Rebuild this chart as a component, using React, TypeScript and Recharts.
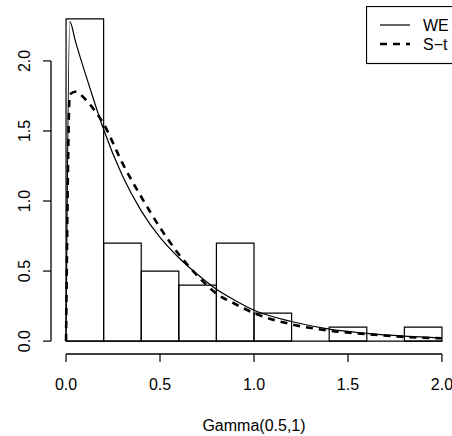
import { ComposedChart, Line, XAxis, YAxis, ReferenceArea, ReferenceLine } from "recharts"

// histogram bins (density scale)
const binEdges = [0, 0.2, 0.4, 0.6, 0.8, 1.0, 1.2, 1.4, 1.6, 1.8, 2.0]
const densities = [2.3, 0.7, 0.5, 0.4, 0.7, 0.2, 0, 0.1, 0, 0.1]

// fitted density curves
const curveX = [0, 0.02, 0.05, 0.1, 0.15, 0.2, 0.3, 0.4, 0.5, 0.6, 0.7, 0.8, 0.9, 1.0, 1.2, 1.4, 1.6, 1.8, 2.0]
const weValues = [0, 2.28, 2.14, 1.92, 1.71, 1.51, 1.18, 0.93, 0.74, 0.595, 0.475, 0.37, 0.29, 0.22, 0.14, 0.085, 0.055, 0.035, 0.022]
const stValues = [0, 1.76, 1.78, 1.73, 1.65, 1.55, 1.27, 1.03, 0.81, 0.62, 0.465, 0.34, 0.265, 0.2, 0.12, 0.075, 0.05, 0.03, 0.02]

const xTicks = [0, 0.5, 1, 1.5, 2]
const yTicks = [0, 0.5, 1, 1.5, 2]
const xLabel = "Gamma(0.5,1)"

// R style: 4% padding around the data range
const xDomain = [-0.08, 2.08]
const yDomain = [-0.092, 2.392]

const series = [
  { key: "we", name: "WE", width: 1.2, dash: undefined as string | undefined },
  { key: "st", name: "S−t", width: 2.6, dash: "7 6" },
]

const curveData = curveX.map((x, i) => ({ x, we: weValues[i], st: stValues[i] }))

const font = "'Liberation Sans', Arial, sans-serif"

const XTick = ({ x, y, payload }: any) => (
  <text x={x} y={y + 28} textAnchor="middle" fontSize={16} fontFamily={font} fill="#000">
    {payload.value.toFixed(1)}
  </text>
)

const YTick = ({ x, y, payload }: any) => {
  const cx = x - 18
  return (
    <text
      x={cx}
      y={y}
      transform={`rotate(-90, ${cx}, ${y})`}
      textAnchor="middle"
      dominantBaseline="central"
      fontSize={16}
      fontFamily={font}
      fill="#000"
    >
      {payload.value.toFixed(1)}
    </text>
  )
}

function LegendBox() {
  return (
    <svg width={90} height={60} style={{ position: "absolute", left: 366, top: 6, overflow: "hidden" }}>
      <rect x={0.5} y={0.5} width={120} height={57} fill="#fff" stroke="#000" strokeWidth={1.2} />
      {series.map((s, i) => (
        <g key={s.key}>
          <line x1={14} x2={44} y1={19 + i * 19} y2={19 + i * 19} stroke="#000" strokeWidth={s.width} strokeDasharray={s.dash} />
          <text x={57} y={25 + i * 19} fontSize={16} fontFamily={font} fill="#000">
            {s.name}
          </text>
        </g>
      ))}
    </svg>
  )
}

export default function App() {
  return (
    <div style={{ position: "absolute", left: 0, top: 0, width: 452, height: 436, overflow: "hidden", background: "#fff" }}>
      <ComposedChart width={460} height={436} data={curveData} margin={{ top: 6, right: 3, left: 0, bottom: 52 }}>
        <XAxis
          dataKey="x"
          type="number"
          domain={xDomain}
          ticks={xTicks}
          axisLine={false}
          tickLine={{ stroke: "#000", strokeWidth: 1.2 }}
          tickSize={8}
          tickMargin={0}
          tick={<XTick />}
          height={30}
          label={{ value: xLabel, position: "insideBottom", offset: -47, fontSize: 16, fontFamily: font, fill: "#000" }}
        />
        <YAxis
          type="number"
          domain={yDomain}
          ticks={yTicks}
          axisLine={false}
          tickLine={{ stroke: "#000", strokeWidth: 1.2 }}
          tickSize={8}
          tickMargin={0}
          tick={<YTick />}
          width={51}
        />
        {/* axis lines only run between first and last tick, like R's axis() */}
        <ReferenceLine
          segment={[{ x: xTicks[0], y: yDomain[0] }, { x: xTicks[xTicks.length - 1], y: yDomain[0] }]}
          stroke="black"
          strokeWidth={1.3}
          ifOverflow="visible"
        />
        <ReferenceLine
          segment={[{ x: xDomain[0], y: yTicks[0] }, { x: xDomain[0], y: yTicks[yTicks.length - 1] }]}
          stroke="black"
          strokeWidth={1.3}
          ifOverflow="visible"
        />
        <ReferenceLine
          segment={[{ x: binEdges[0], y: 0 }, { x: binEdges[binEdges.length - 1], y: 0 }]}
          stroke="black"
          strokeWidth={1.2}
          ifOverflow="visible"
        />
        {densities.map((d, i) => (
          <ReferenceArea
            key={i}
            x1={binEdges[i]}
            x2={binEdges[i + 1]}
            y1={0}
            y2={d}
            fill="none"
            stroke="#000"
            strokeWidth={1.2}
            strokeOpacity={1}
            ifOverflow="visible"
          />
        ))}
        {series.map((s) => (
          <Line
            key={s.key}
            dataKey={s.key}
            name={s.name}
            type="monotone"
            stroke="#000"
            strokeWidth={s.width}
            strokeDasharray={s.dash}
            dot={false}
            isAnimationActive={false}
          />
        ))}
      </ComposedChart>
      <LegendBox />
    </div>
  )
}
